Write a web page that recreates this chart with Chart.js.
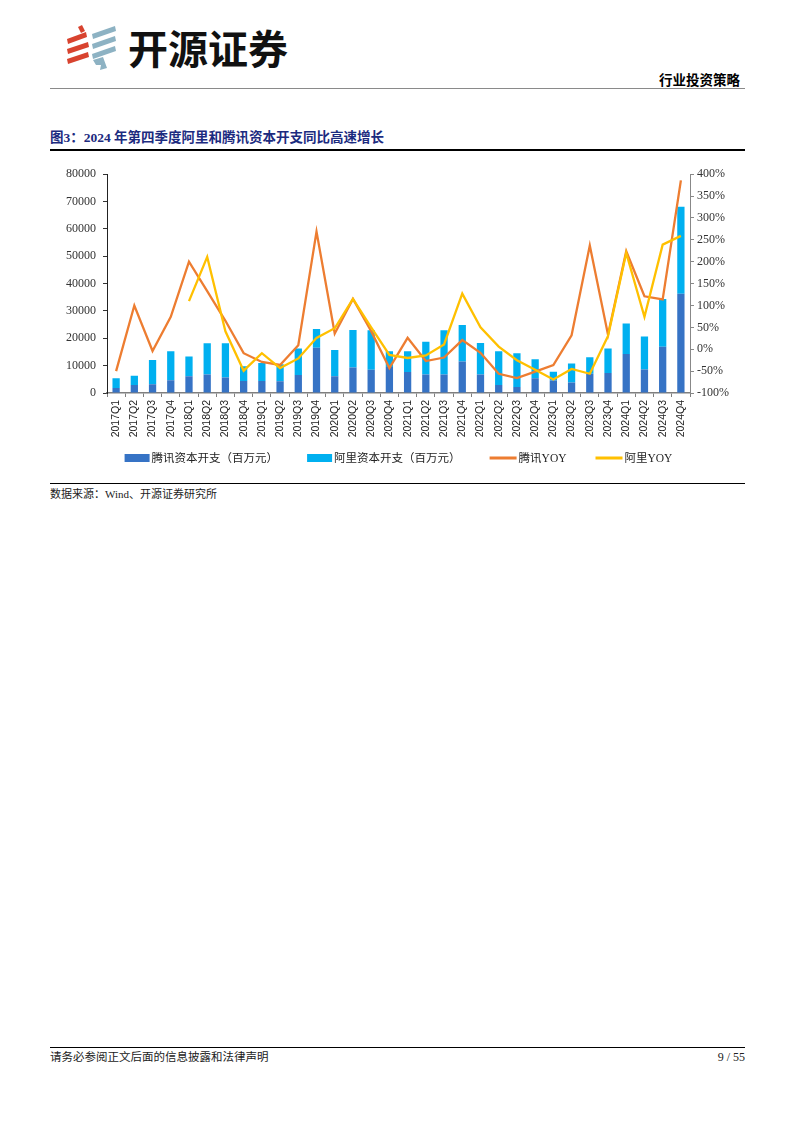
<!DOCTYPE html>
<html><head><meta charset="utf-8">
<script src="https://cdn.jsdelivr.net/npm/chart.js@4.4.1/dist/chart.umd.min.js"></script>
<style>
body{margin:0;background:#fff;}
#page{position:relative;width:794px;height:1123px;overflow:hidden;background:#fff;font-family:'Liberation Serif','Noto Sans CJK SC',serif;color:#000;}
.abs{position:absolute;white-space:nowrap;}
.brand{left:128px;top:27px;font-family:'Noto Sans CJK SC',sans-serif;font-weight:700;font-size:40px;line-height:40px;color:#111;}
.hdr{right:54px;top:72px;font-family:'Noto Sans CJK SC',sans-serif;font-weight:700;font-size:13.5px;line-height:14px;}
.title{left:50px;top:130px;font-weight:700;font-size:13.5px;line-height:16px;color:#1c2b7f;}
.src{left:50px;top:487px;font-size:11px;line-height:14px;color:#222;}
.foot{left:50px;top:1050px;font-size:11.5px;line-height:14px;color:#222;}
.pg{right:49px;top:1050px;font-size:12px;line-height:14px;color:#222;}
.line{position:absolute;left:50px;width:695px;}
</style></head><body>
<div id="page">
  <svg class="abs" style="left:63px;top:24px" width="58" height="48" viewBox="0 0 58 48">
    <g fill="#d8432f">
      <polygon points="15,3 19,1 22,7 18,9"/>
      <polygon points="4,15 23,8 24,13 5,20"/>
      <polygon points="4,25 25,18 26,23 5,30"/>
      <polygon points="4,35 25,28 26,33 5,40"/>
    </g>
    <g fill="#8db2c3">
      <polygon points="29,10 52,2 53,7 30,15"/>
      <polygon points="29,20 52,12 53,17 30,25"/>
      <polygon points="29,30 52,22 53,27 30,35"/>
      <polygon points="30,36 40,33 44,44 37,46 38,41 33,41"/>
    </g>
  </svg>
  <div class="abs brand">开源证券</div>
  <div class="abs hdr">行业投资策略</div>
  <div class="line" style="top:88px;height:1px;background:#8a8a8a;"></div>
  <div class="abs title">图3：2024 年第四季度阿里和腾讯资本开支同比高速增长</div>
  <div class="line" style="top:149px;height:2px;background:#000;"></div>
  <div class="abs" style="left:40px;top:160px;width:705px;height:314px;"><canvas id="c" width="705" height="314"></canvas></div>
  <div class="line" style="top:483px;height:1px;background:#000;"></div>
  <div class="abs src">数据来源：Wind、开源证券研究所</div>
  <div class="line" style="top:1047px;height:1px;background:#000;"></div>
  <div class="abs foot">请务必参阅正文后面的信息披露和法律声明</div>
  <div class="abs pg">9 / 55</div>
</div>
<script>
const categories = ['2017Q1','2017Q2','2017Q3','2017Q4','2018Q1','2018Q2','2018Q3','2018Q4',
  '2019Q1','2019Q2','2019Q3','2019Q4','2020Q1','2020Q2','2020Q3','2020Q4',
  '2021Q1','2021Q2','2021Q3','2021Q4','2022Q1','2022Q2','2022Q3','2022Q4',
  '2023Q1','2023Q2','2023Q3','2023Q4','2024Q1','2024Q2','2024Q3','2024Q4'];
const tencentCapex = [1800,2900,3200,4700,6100,6800,5700,4400,4400,4300,6600,16500,6100,9300,8500,9500,
  7700,6800,6800,11500,6800,2900,2200,5400,4600,3800,7000,7300,14300,8600,16900,36300];
const aliCapex = [3600,3400,8900,10600,7200,11400,12500,5400,6600,6200,9700,6900,9600,13700,14400,5800,
  7600,11900,16100,13400,11500,12400,12300,6900,3200,7000,6100,9000,11100,12100,17500,31800];
const tencentYoy = [-50,100,-4,74,200,133,65,-9,-29,-36,9,269,36,115,41,-43,
  26,-27,-19,21,-8,-56,-66,-51,-36,32,237,33,224,121,114,386];
const aliYoy = [null,null,null,null,110,211,41,-49,-9,-43,-21,26,48,115,50,-13,
  -20,-14,11,127,50,6,-25,-47,-69,-45,-56,30,220,74,239,259];
const leftTicks = {min:0, max:80000, step:10000};
const rightTicks = {min:-100, max:400, step:50};
const seriesNames = ['腾讯资本开支（百万元）','阿里资本开支（百万元）','腾讯YOY','阿里YOY'];

const C_TX = '#3673c5', C_ALI = '#00b0f0', C_TXY = '#ed7d31', C_ALIY = '#ffc000';
const tickFont = {family:"'Liberation Serif','Noto Sans CJK SC',serif", size:12};

const legendPlugin = {
  id:'customLegend',
  afterDraw(chart){
    const ctx = chart.ctx;
    const ds = chart.data.datasets;
    ctx.save();
    ctx.font = "11.5px 'Liberation Serif','Noto Sans CJK SC',serif";
    ctx.textBaseline = 'middle';
    const gap = 29, tgap = 2;
    const items = ds.map(d => {
      const isLine = d.type === 'line';
      const sw = isLine ? 27 : 25;
      return {d, isLine, sw, w: sw + tgap + ctx.measureText(d.label).width};
    });
    const total = items.reduce((s,i)=>s+i.w,0) + gap*(items.length-1);
    const ca = chart.chartArea;
    let x = (ca.left + ca.right)/2 - total/2;
    const y = ca.bottom + 65;
    items.forEach(it => {
      if (it.isLine){ ctx.fillStyle = it.d.borderColor; ctx.fillRect(x, y-1.5, it.sw, 3); }
      else { ctx.fillStyle = it.d.backgroundColor; ctx.fillRect(x, y-4, it.sw, 8); }
      ctx.fillStyle = '#222';
      ctx.fillText(it.d.label, x + it.sw + tgap, y+0.5);
      x += it.w + gap;
    });
    ctx.restore();
  }
};

new Chart(document.getElementById('c'), {
  data:{
    labels:categories,
    datasets:[
      {type:'bar', label:seriesNames[0], data:tencentCapex, backgroundColor:C_TX, stack:'s', yAxisID:'y', order:2,
        categoryPercentage:1, barPercentage:0.4},
      {type:'bar', label:seriesNames[1], data:aliCapex, backgroundColor:C_ALI, stack:'s', yAxisID:'y', order:2,
        categoryPercentage:1, barPercentage:0.4},
      {type:'line', label:seriesNames[2], data:tencentYoy, borderColor:C_TXY, backgroundColor:C_TXY, borderWidth:2.3,
        pointRadius:0, tension:0, yAxisID:'y1', order:1, spanGaps:false},
      {type:'line', label:seriesNames[3], data:aliYoy, borderColor:C_ALIY, backgroundColor:C_ALIY, borderWidth:2.3,
        pointRadius:0, tension:0, yAxisID:'y1', order:0, spanGaps:false}
    ]
  },
  options:{
    responsive:false, animation:false,
    layout:{padding:{top:10,bottom:31,left:0,right:0}},
    plugins:{legend:{display:false}, tooltip:{enabled:false}},
    scales:{
      x:{
        offset:true,
        grid:{display:true, drawOnChartArea:false, drawTicks:true, tickLength:4, offset:true, color:'#7f7f7f'},
        border:{display:true, color:'#7f7f7f', width:1.5},
        ticks:{autoSkip:false, minRotation:90, maxRotation:90, padding:3, color:'#222',
          font:{family:"'Liberation Sans',Arial,sans-serif", size:10.5}},
        afterFit(s){ s.height = 50; }
      },
      y:{
        position:'left', stacked:true, min:leftTicks.min, max:leftTicks.max,
        grid:{display:true, drawOnChartArea:false, drawTicks:true, tickLength:4, color:'#333'},
        border:{display:true, color:'#222', width:1},
        ticks:{stepSize:leftTicks.step, padding:7, color:'#333', font:tickFont, callback:v=>String(v)},
        afterFit(s){ s.width = 67; }
      },
      y1:{
        position:'right', min:rightTicks.min, max:rightTicks.max,
        grid:{display:true, drawOnChartArea:false, drawTicks:true, tickLength:4, color:'#888'},
        border:{display:true, color:'#888', width:1},
        ticks:{stepSize:rightTicks.step, padding:3, color:'#333', font:tickFont, callback:v=>v+'%'},
        afterFit(s){ s.width = 55; }
      }
    }
  },
  plugins:[legendPlugin]
});
</script>
</body></html>
